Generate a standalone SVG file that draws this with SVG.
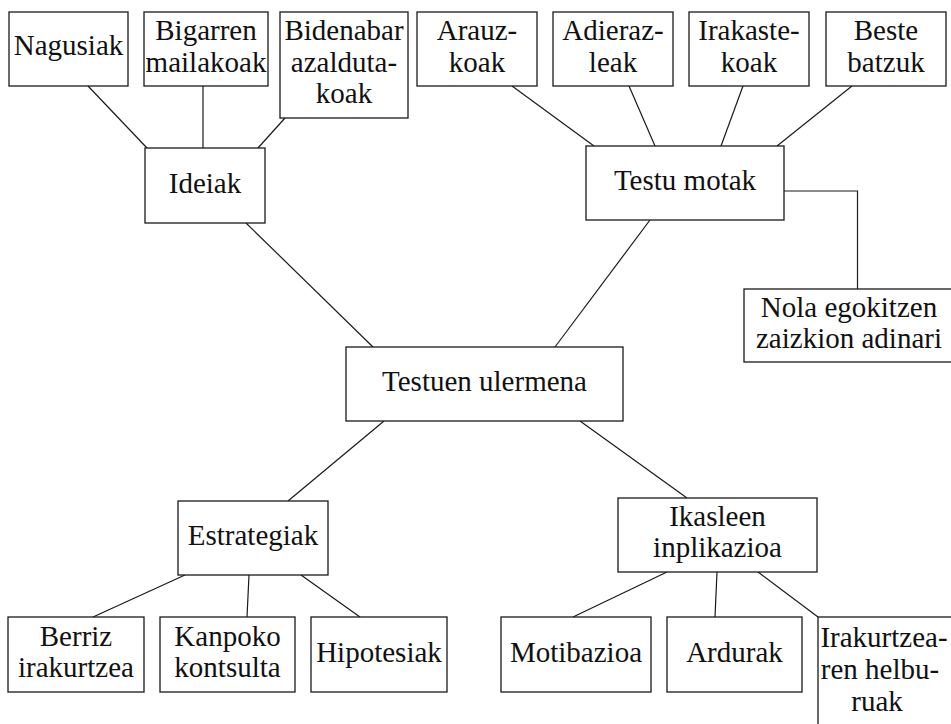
<svg xmlns="http://www.w3.org/2000/svg" width="951" height="724" viewBox="0 0 951 724">
<style>
rect{fill:#fff;stroke:#1a1a1a;stroke-width:1.3}
line,polyline{stroke:#1a1a1a;stroke-width:1.2;fill:none}
text{font-family:"Liberation Serif","Times New Roman",serif;font-size:29px;fill:#111;text-anchor:middle}
</style>
<rect x="0" y="0" width="951" height="724" style="stroke:none;fill:#fff"/>
<g id="connectors">
<line x1="88" y1="86" x2="147" y2="148"/>
<line x1="203" y1="86" x2="203" y2="148"/>
<line x1="285" y1="118" x2="258" y2="148"/>
<line x1="512" y1="86" x2="594" y2="146"/>
<line x1="629" y1="86" x2="655" y2="146"/>
<line x1="743" y1="86" x2="721" y2="146"/>
<line x1="852" y1="86" x2="777" y2="146"/>
<polyline points="784,191 857.5,191 857.5,289"/>
<line x1="246" y1="223" x2="373" y2="347"/>
<line x1="650" y1="220" x2="555" y2="347"/>
<line x1="384" y1="421" x2="288" y2="501"/>
<line x1="580" y1="421" x2="687" y2="498"/>
<line x1="185" y1="575" x2="93" y2="617"/>
<line x1="249" y1="575" x2="247" y2="617"/>
<line x1="301" y1="575" x2="360" y2="617"/>
<line x1="667" y1="572" x2="573" y2="617"/>
<line x1="717" y1="572" x2="715" y2="617"/>
<line x1="758" y1="572" x2="818" y2="617"/>
</g>
<g id="nagusiak"><rect x="9" y="12" width="119" height="74"/><text x="68.5" y="55">Nagusiak</text></g>
<g id="bigarren"><rect x="144" y="12" width="124" height="74"/><text x="206" y="40">Bigarren</text><text x="206" y="71.7">mailakoak</text></g>
<g id="bidenabar"><rect x="280" y="12" width="128" height="106"/><text x="344" y="40">Bidenabar</text><text x="344" y="71.7">azalduta-</text><text x="344" y="103">koak</text></g>
<g id="arauzkoak"><rect x="417" y="12" width="120" height="74"/><text x="477" y="40">Arauz-</text><text x="477" y="71.7">koak</text></g>
<g id="adierazleak"><rect x="553" y="12" width="120" height="74"/><text x="613" y="40">Adieraz-</text><text x="613" y="71.7">leak</text></g>
<g id="irakastekoak"><rect x="689" y="12" width="120" height="74"/><text x="749" y="40">Irakaste-</text><text x="749" y="71.7">koak</text></g>
<g id="beste"><rect x="826" y="12" width="120" height="74"/><text x="886" y="40">Beste</text><text x="886" y="71.7">batzuk</text></g>
<g id="ideiak"><rect x="145" y="148" width="120" height="75"/><text x="205" y="192.7">Ideiak</text></g>
<g id="testumotak"><rect x="586" y="146" width="198" height="74"/><text x="685" y="190">Testu motak</text></g>
<g id="nola"><rect x="744" y="289" width="220" height="73"/><text x="849" y="316.7">Nola egokitzen</text><text x="849" y="348.3">zaizkion adinari</text></g>
<g id="testuen"><rect x="346" y="347" width="277" height="74"/><text x="484.5" y="390.7">Testuen ulermena</text></g>
<g id="estrategiak"><rect x="178" y="501" width="150" height="74"/><text x="253" y="545">Estrategiak</text></g>
<g id="ikasleen"><rect x="618" y="498" width="199" height="74"/><text x="717.5" y="525.7">Ikasleen</text><text x="717.5" y="557.3">inplikazioa</text></g>
<g id="berriz"><rect x="8" y="617" width="136" height="75"/><text x="76" y="645.7">Berriz</text><text x="76" y="677.3">irakurtzea</text></g>
<g id="kanpoko"><rect x="160" y="617" width="135" height="75"/><text x="227.5" y="645.7">Kanpoko</text><text x="227.5" y="677.3">kontsulta</text></g>
<g id="hipotesiak"><rect x="311" y="617" width="136" height="75"/><text x="379" y="661.7">Hipotesiak</text></g>
<g id="motibazioa"><rect x="501" y="617" width="150" height="75"/><text x="576" y="661.7">Motibazioa</text></g>
<g id="ardurak"><rect x="667" y="617" width="135" height="75"/><text x="734.5" y="661.7">Ardurak</text></g>
<g id="irakurtzea"><rect x="818" y="617" width="200" height="200"/><text x="884" y="646.5">Irakurtzea-</text><text x="880" y="678.5">ren helbu-</text><text x="877" y="710.5">ruak</text></g>
</svg>
